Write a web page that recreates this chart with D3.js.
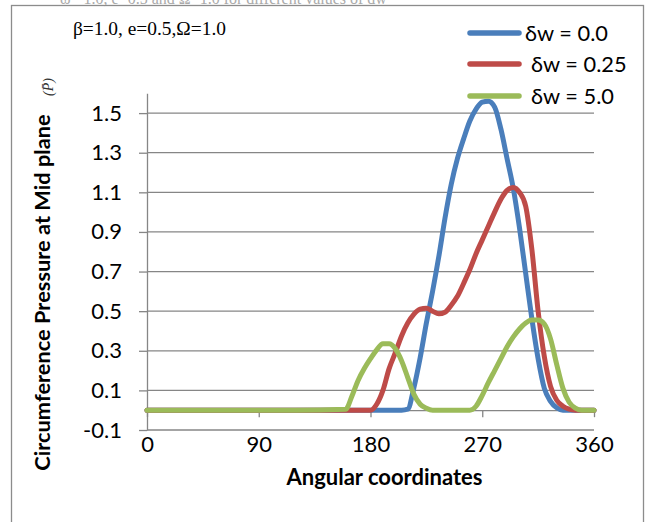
<!DOCTYPE html>
<html>
<head>
<meta charset="utf-8">
<script src="https://cdnjs.cloudflare.com/ajax/libs/d3/7.8.5/d3.min.js"></script>
<style>
  body { margin: 0; background: #fff; }
  svg { display: block; }
</style>
</head>
<body>
<div id="chart"></div>
<script>
// Circumferential pressure at mid plane vs angular coordinate, three values of dw

var angles = [0, 40, 80, 120, 160, 165, 170, 175, 180, 185, 190, 195, 200, 205, 210, 215,
  220, 225, 230, 235, 240, 245, 250, 255, 260, 265, 270, 275, 280, 285, 290, 295,
  300, 305, 310, 315, 320, 325, 330, 335, 340, 345, 350, 355, 360];

var dw00 = [0, 0, 0, 0, 0, 0, 0, 0, 0, 0, 0, 0, 0, 0, 0.005, 0.115,
  0.265, 0.44, 0.60, 0.775, 0.97, 1.14, 1.27, 1.37, 1.46, 1.52, 1.555, 1.56, 1.53, 1.42, 1.27, 1.12,
  0.92, 0.69, 0.46, 0.26, 0.11, 0.045, 0.012, 0, 0, 0, 0, 0, 0];

var dw025 = [0, 0, 0, 0, 0, 0, 0, 0, 0, 0.03, 0.10, 0.21, 0.29, 0.375, 0.44, 0.485,
  0.51, 0.515, 0.50, 0.487, 0.495, 0.53, 0.575, 0.64, 0.71, 0.79, 0.86, 0.93, 1.00, 1.065, 1.11, 1.125,
  1.10, 1.03, 0.81, 0.50, 0.27, 0.12, 0.05, 0.02, 0.005, 0, 0, 0, 0];

var dw50 = [0, 0, 0, 0, 0.005, 0.07, 0.15, 0.21, 0.26, 0.305, 0.335, 0.335, 0.31, 0.25, 0.165, 0.08,
  0.03, 0.01, 0, 0, 0, 0, 0, 0, 0, 0.02, 0.075, 0.14, 0.20, 0.26, 0.32, 0.37,
  0.41, 0.44, 0.455, 0.455, 0.435, 0.36, 0.23, 0.11, 0.04, 0.01, 0, 0, 0];

var seriesNames = ['\u03b4w = 0.0', '\u03b4w = 0.25', '\u03b4w = 5.0'];
var seriesColors = ['#4a7ebb', '#be4b48', '#9bbb59'];

var xTicks = [0, 90, 180, 270, 360];
var yTicks = [-0.1, 0.1, 0.3, 0.5, 0.7, 0.9, 1.1, 1.3, 1.5];

var titleText = '\u03b2=1.0, e=0.5,\u03a9=1.0';
var xTitle = 'Angular coordinates';
var yTitle = 'Circumference Pressure at Mid plane';

var width = 649, height = 522;
var gridColor = '#868686';
var sans = 'Lato, "Open Sans", sans-serif';

var svg = d3.select('#chart').append('svg')
  .attr('width', width)
  .attr('height', height);

// faint caption of the page above, cut by the crop
svg.append('text')
  .attr('x', 60)
  .attr('y', 4)
  .attr('font-family', '"Liberation Serif", serif')
  .attr('font-size', 16)
  .attr('fill', '#aaa')
  .text('\u03c9 =1.0, e=0.5 and \u03a9=1.0 for different values of dw');

// outer frame
svg.append('rect')
  .attr('x', 11.5)
  .attr('y', 5.5)
  .attr('width', 632)
  .attr('height', 540)
  .attr('fill', 'none')
  .attr('stroke', '#8c8c8c')
  .attr('stroke-width', 1.3);

var x = d3.scaleLinear().domain([0, 360]).range([147, 594]);
var y = d3.scaleLinear().domain([-0.1, 1.6]).range([430, 93.3]);

// horizontal gridlines
svg.append('g')
  .selectAll('line')
  .data(yTicks)
  .join('line')
  .attr('x1', x(0))
  .attr('x2', x(360))
  .attr('y1', function (d) { return y(d); })
  .attr('y2', function (d) { return y(d); })
  .attr('stroke', gridColor)
  .attr('stroke-width', 1.3);

// y axis
var yAxis = svg.append('g')
  .attr('transform', 'translate(' + x(0) + ',0)')
  .call(d3.axisLeft(y)
    .tickValues(yTicks)
    .tickSize(8)
    .tickSizeOuter(0)
    .tickPadding(17)
    .tickFormat(function (d) { return d.toFixed(1); }));

// x axis crosses at zero
var xAxis = svg.append('g')
  .attr('transform', 'translate(0,' + y(0) + ')')
  .call(d3.axisBottom(x)
    .tickValues(xTicks)
    .tickSize(7)
    .tickSizeOuter(0)
    .tickPadding(19)
    .tickFormat(function (d) { return String(d); }));

[yAxis, xAxis].forEach(function (ax) {
  ax.select('.domain').attr('stroke', gridColor).attr('stroke-width', 1.3);
  ax.selectAll('.tick line').attr('stroke', gridColor).attr('stroke-width', 1.3);
  ax.selectAll('.tick text')
    .attr('fill', '#000')
    .attr('font-family', sans)
    .attr('font-size', 22);
});

// series
var allSeries = [dw00, dw025, dw50];
var line = d3.line()
  .x(function (d, i) { return x(angles[i]); })
  .y(function (d) { return y(d); })
  .curve(d3.curveMonotoneX);

svg.append('g')
  .selectAll('path')
  .data(allSeries)
  .join('path')
  .attr('d', function (d) { return line(d); })
  .attr('fill', 'none')
  .attr('stroke', function (d, i) { return seriesColors[i]; })
  .attr('stroke-width', 5)
  .attr('stroke-linejoin', 'round')
  .attr('stroke-linecap', 'round');

// parameters text
svg.append('text')
  .attr('x', 73)
  .attr('y', 35)
  .attr('font-family', '"Liberation Serif", "Times New Roman", serif')
  .attr('font-size', 19.4)
  .attr('fill', '#000')
  .text(titleText);

// legend
var legendY = [33, 64, 96];
var legendTextX = [525, 531, 531];
var legend = svg.append('g');
seriesNames.forEach(function (name, i) {
  legend.append('line')
    .attr('x1', 470)
    .attr('x2', 519)
    .attr('y1', legendY[i])
    .attr('y2', legendY[i])
    .attr('stroke', seriesColors[i])
    .attr('stroke-width', 5.5)
    .attr('stroke-linecap', 'round');
  legend.append('text')
    .attr('x', legendTextX[i])
    .attr('y', legendY[i])
    .attr('dy', '0.36em')
    .attr('font-family', sans)
    .attr('font-size', 21.8)
    .attr('fill', '#000')
    .text(name);
});

// axis titles
svg.append('text')
  .attr('x', 384.5)
  .attr('y', 485)
  .attr('text-anchor', 'middle')
  .attr('font-family', sans)
  .attr('font-weight', 'bold')
  .attr('font-size', 22)
  .attr('fill', '#000')
  .text(xTitle);

svg.append('text')
  .attr('transform', 'translate(50,292.5) rotate(-90)')
  .attr('text-anchor', 'middle')
  .attr('font-family', sans)
  .attr('font-weight', 'bold')
  .attr('font-size', 21.8)
  .attr('fill', '#000')
  .text(yTitle);

svg.append('text')
  .attr('transform', 'translate(53,87) rotate(-90)')
  .attr('text-anchor', 'middle')
  .attr('font-family', '"Liberation Serif", serif')
  .attr('font-style', 'italic')
  .attr('font-size', 14)
  .attr('fill', '#333')
  .text('(P\u0304)');
</script>
</body>
</html>
